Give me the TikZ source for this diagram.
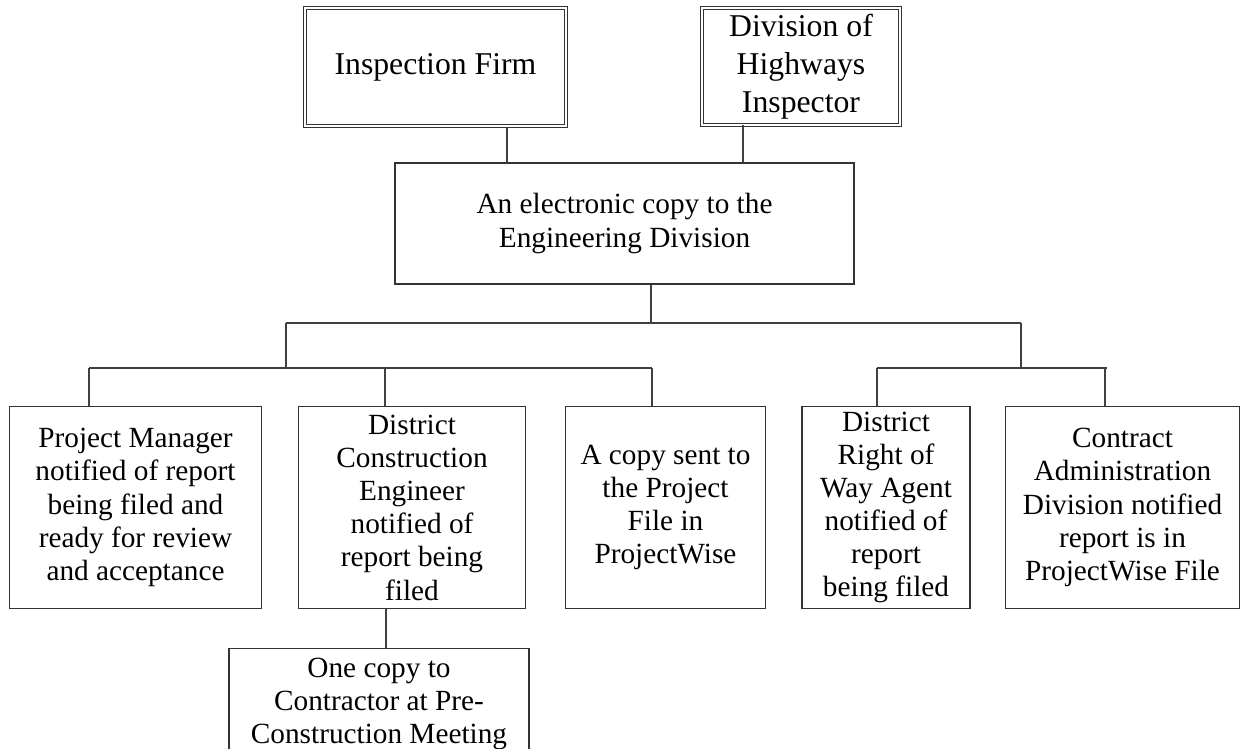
\documentclass[tikz,border=0pt]{standalone}
\usepackage{fontspec}
\setmainfont{Liberation Serif}
\usepackage{tikz}
\usetikzlibrary{calc}
\tikzset{
  box/.style={draw=black!80, line width=0.5pt, align=center, inner sep=1pt,
    font=\fontsize{12}{13.6}\selectfont},
  topbox/.style={box, double=white, double distance=0.7pt, line width=0.45pt,
    font=\fontsize{13}{15.6}\selectfont},
  link/.style={draw=black!75, line width=0.6pt},
}

\begin{document}
\begin{tikzpicture}[x=0.0144cm, y=-0.0144cm]
    % Cadre de la page
    \clip (0,0) rectangle (1241,749);
    \fill[white] (0,0) rectangle (1241,749);

    % Boites du haut
    \node[topbox, minimum width=3.76cm, minimum height=1.70cm] (firm) at (435.5,67) {Inspection Firm};
    \node[topbox, minimum width=2.85cm, minimum height=1.68cm] (dohi) at (801,66.5) {Division of\\Highways\\Inspector};

    % Copie electronique
    \node[box, minimum width=6.61cm, minimum height=1.74cm] (ecopy) at (624.5,223.5) {An electronic copy to the\\Engineering Division};

    % Rangee des destinataires
    \node[box, minimum width=3.64cm, minimum height=2.92cm] (pm) at (135.5,507.5) {Project Manager\\notified of report\\being filed and\\ready for review\\and acceptance};
    \node[box, minimum width=3.28cm, minimum height=2.92cm] (dce) at (412,507.5) {District\\Construction\\Engineer\\notified of\\report being\\filed};
    \node[box, minimum width=2.89cm, minimum height=2.92cm] (pfile) at (665.5,507.5) {A copy sent to\\the Project\\File in\\ProjectWise};
    \node[box, minimum width=2.42cm, minimum height=2.92cm] (drw) at (886,507.5) {District\\Right of\\Way Agent\\notified of\\report\\being filed};
    \node[box, minimum width=3.36cm, minimum height=2.92cm] (cad) at (1122.5,507.5) {Contract\\Administration\\Division notified\\report is in\\ProjectWise File};

    % Copie pour l'entrepreneur
    \node[box, minimum width=4.32cm, minimum height=1.61cm] (contr) at (379,704) {One copy to\\Contractor at Pre-\\Construction Meeting};

    % Points de jonction
    \coordinate (xfirm) at (507,0);
    \coordinate (xdohi) at (743,0);
    \coordinate (xdown) at (651,323);
    \coordinate (mainL) at (286,323);
    \coordinate (mainR) at (1021,323);
    \coordinate (busL) at (286,368);
    \coordinate (busR) at (1021,368);
    \coordinate (dpm) at (89,368);
    \coordinate (ddce) at (385,368);
    \coordinate (dfile) at (652,368);
    \coordinate (ddrw) at (877,368);
    \coordinate (dcad) at (1105,368);
    \coordinate (xcontr) at (386,0);

    % Liens du haut
    \draw[link] (firm.south -| xfirm) -- (ecopy.north -| xfirm);
    \draw[link] (dohi.south -| xdohi) -- (ecopy.north -| xdohi);

    % Tronc principal
    \draw[link] (ecopy.south -| xdown) -- (xdown);
    \draw[link] (mainL) -- (mainR);
    \draw[link] (mainL) -- (busL);
    \draw[link] (mainR) -- (busR);

    % Branche gauche
    \draw[link] (dpm) -- (dfile);
    \draw[link] (dpm) -- (dpm |- pm.north);
    \draw[link] (ddce) -- (ddce |- dce.north);
    \draw[link] (dfile) -- (dfile |- pfile.north);

    % Branche droite
    \draw[link] (ddrw) -- ($(dcad)+(2,0)$);
    \draw[link] (ddrw) -- (ddrw |- drw.north);
    \draw[link] (dcad) -- (dcad |- cad.north);

    % Vers la boite du bas
    \draw[link] (dce.south -| xcontr) -- (contr.north -| xcontr);
\end{tikzpicture}
\end{document}
